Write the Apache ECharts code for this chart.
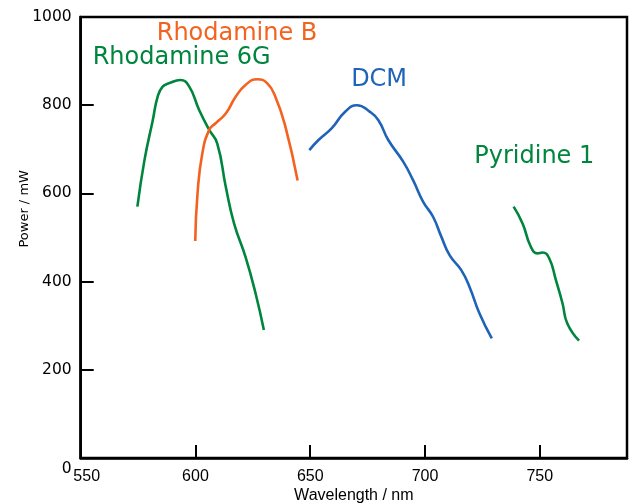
<!DOCTYPE html>
<html>
<head>
<meta charset="utf-8">
<script src="https://cdn.jsdelivr.net/npm/echarts@6/dist/echarts.min.js"></script>
<style>html,body{margin:0;padding:0;background:#fff}#c{width:634px;height:504px}</style>
</head>
<body>
<div id="c"></div>
<script>
// Rhodamine 6G
const r6gX = [574.7, 577.8, 581.4, 583.5, 585.7, 588.6, 593.4, 597.3, 601.6, 606.0, 609.5, 613.2, 616.8, 621.8, 626.2, 629.8];
const r6gY = [570, 676, 766, 819, 842, 850, 857, 842, 789, 744, 713, 615, 532, 456, 373, 290];
// Rhodamine B
const rbX = [599.9, 600.9, 603.0, 606.0, 608.8, 613.2, 617.5, 621.8, 626.9, 631.2, 634.8, 639.2, 644.5];
const rbY = [492, 600, 691, 744, 759, 781, 819, 846, 859, 850, 819, 751, 629];
// DCM
const dcmX = [649.6, 653.6, 659.4, 665.2, 670.3, 676.0, 679.7, 684.0, 690.5, 694.8, 699.2, 703.5, 707.1, 710.7, 715.8, 719.4, 723.7, 729.1];
const dcmY = [698, 721, 748, 785, 800, 785, 766, 721, 672, 630, 581, 547, 502, 460, 426, 388, 328, 271];
// Pyridine 1
const pyrX = [738.6, 742.5, 746.1, 749.0, 751.2, 754.1, 757.0, 759.9, 762.0, 767.1];
const pyrY = [570, 532, 479, 464, 466, 453, 404, 351, 305, 266];

const names = ['Rhodamine 6G', 'Rhodamine B', 'DCM', 'Pyridine 1'];
const colors = ['#00853e', '#f4621f', '#1f63b8', '#00853e'];
const xs = [r6gX, rbX, dcmX, pyrX];
const ys = [r6gY, rbY, dcmY, pyrY];

const xTicks = [550, 600, 650, 700, 750];
const yTicks = [0, 200, 400, 600, 800, 1000];
const xTitle = 'Wavelength / nm';
const yTitle = 'Power / mW';

const chart = echarts.init(document.getElementById('c'), null, {renderer: 'canvas'});
const series = names.map((n, i) => ({
  name: n,
  type: 'line',
  smooth: 0.5,
  showSymbol: false,
  lineStyle: {color: colors[i], width: 2.6},
  data: xs[i].map((x, k) => [x, ys[i][k]])
}));

chart.setOption({
  animation: false,
  backgroundColor: '#fff',
  grid: {left: 80.7, top: 17, right: 7, bottom: 46, outerBoundsMode: 'none', containLabel: false,
         show: true, borderColor: '#000', borderWidth: 2.5, backgroundColor: 'transparent'},
  xAxis: {
    type: 'value', min: 550, max: 788, interval: 50,
    name: xTitle, nameLocation: 'middle', nameGap: 30, nameMoveOverlap: false,
    nameTextStyle: {fontFamily: 'Liberation Sans', fontSize: 16, color: '#000'},
    axisLine: {lineStyle: {color: '#000', width: 2.5}},
    axisTick: {inside: true, length: 13, lineStyle: {color: '#000', width: 2}},
    splitLine: {show: false},
    axisLabel: {
      margin: 11, fontFamily: 'Liberation Sans', fontSize: 16, color: '#000',
      showMaxLabel: false, hideOverlap: false,
      formatter: v => xTicks.includes(v) ? (v === 550 ? '{a|' + v + '}' : String(v)) : '',
      rich: {a: {fontFamily: 'Liberation Sans', fontSize: 16, color: '#000', padding: [0, 0, 0, 12]}}
    }
  },
  yAxis: {
    type: 'value', min: 0, max: 1000, interval: 200,
    axisLine: {lineStyle: {color: '#000', width: 2.5}},
    axisTick: {inside: true, length: 13, lineStyle: {color: '#000', width: 2}},
    splitLine: {show: false},
    axisLabel: {
      margin: 9, fontFamily: 'DejaVu Sans', fontSize: 15.5, color: '#000', hideOverlap: false,
      formatter: v => yTicks.includes(v) ? (v === 0 ? '{z|0}' : String(v)) : '',
      rich: {z: {fontFamily: 'DejaVu Sans', fontSize: 15.5, color: '#000', padding: [22, 0, 0, 0]}}
    }
  },
  series: series
});

function txt(label, dx, dy, color) {
  const p = chart.convertToPixel({gridIndex: 0}, [dx, dy]);
  return {type: 'text', x: p[0], y: p[1], style: {text: label, fill: color, font: '24px "DejaVu Sans"', align: 'center', verticalAlign: 'middle'}};
}
const yNamePos = chart.convertToPixel({gridIndex: 0}, [550, 565]);
chart.setOption({
  graphic: [
    txt('Rhodamine B', 618.1, 963, colors[1]),
    txt('Rhodamine 6G', 594.0, 908, colors[0]),
    txt('DCM', 680.0, 857, colors[2]),
    txt('Pyridine 1', 747.6, 682, colors[3]),
    {type: 'text', x: yNamePos[0] - 56, y: yNamePos[1], rotation: Math.PI / 2,
     style: {text: yTitle, fill: '#000', font: '13px "DejaVu Sans"', align: 'center', verticalAlign: 'middle'}}
  ]
});
</script>
</body>
</html>
